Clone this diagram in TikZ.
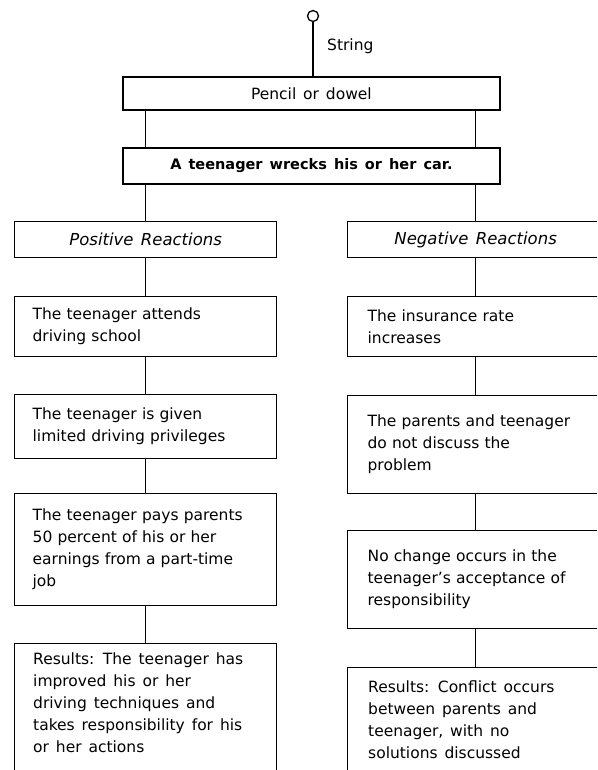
\documentclass[tikz,border=0pt]{standalone}
\usepackage{fontspec}
\setmainfont{DejaVu Sans}[WordSpace=1.4]
\begin{document}
\begin{tikzpicture}[x=1pt,y=-1pt,
  every node/.style={font=\fontsize{15.5}{22}\selectfont},
  box/.style={draw, line width=1.3pt, anchor=north west, inner xsep=18pt, inner ysep=0pt, align=left},
  lbox/.style={box, text width=226pt},
  rbox/.style={box, inner xsep=20pt, text width=216pt},
  head/.style={draw, line width=1.3pt, anchor=north west, minimum height=36pt,
    font=\fontsize{16.5}{22}\selectfont\itshape},
  bar/.style={draw, line width=1.8pt, minimum width=377pt, anchor=north west},
  inner/.style={anchor=north west, align=left, inner sep=0pt},
  link/.style={line width=1.3pt}
]
\useasboundingbox (0,0) rectangle (597,770);
\clip (0,0) rectangle (597,770);

% hanging ring, string and the two cross bars
\node[draw, circle, line width=1.3pt, minimum size=11pt, inner sep=0pt] (ring) at (313,16) {};
\node[anchor=west, inner sep=0pt] (strlabel) at (327,46) {String};
\node[bar, minimum height=33pt] (pencil) at (122,76) {Pencil or dowel};
\node[bar, minimum height=36pt, font=\fontsize{14.5}{20}\selectfont\bfseries] (event) at (122,147)
  {A teenager wrecks his or her car.};

% column headings
\node[head, minimum width=262pt] (pos) at (14,221) {Positive Reactions};
\node[head, minimum width=256pt] (neg) at (347,221) {Negative Reactions};

% positive column
\node[lbox, minimum height=60pt] (l1) at (14,296) {The teenager attends\\driving school};
\node[lbox, minimum height=64pt] (l2) at (14,394) {The teenager is given\\limited driving privileges};
\node[lbox, minimum height=112pt] (l3) at (14,493)
  {The teenager pays parents\\50 percent of his or her\\earnings from a part-time\\job};
\node[lbox, minimum height=150pt] (l4) at (14,643) {};
\node[inner] (l4t) at ([xshift=19pt, yshift=-10pt]l4.north west)
  {Results: The teenager has\\improved his or her\\driving techniques and\\takes responsibility for his\\or her actions};

% negative column
\node[rbox, minimum height=60pt] (r1) at (347,296) {The insurance rate\\increases};
\node[rbox, minimum height=98pt] (r2) at (347,395) {The parents and teenager\\do not discuss the\\problem};
\node[rbox, minimum height=98pt] (r3) at (347,530)
  {No change occurs in the\\teenager's acceptance of\\responsibility};
\node[rbox, minimum height=150pt] (r4) at (347,667) {};
\node[inner] (r4t) at ([xshift=21pt, yshift=-14pt]r4.north west)
  {Results: Conflict occurs\\between parents and\\teenager, with no\\solutions discussed};

% connectors
\draw[link] (ring.south) -- (ring.south |- pencil.north);
\draw[link] (pencil.south -| pos.north) -- (event.north -| pos.north);
\draw[link] (pencil.south -| neg.north) -- (event.north -| neg.north);
\draw[link] (event.south -| pos.north) -- (pos.north);
\draw[link] (event.south -| neg.north) -- (neg.north);
\draw[link] (pos.south) -- (l1.north);
\draw[link] (l1.south) -- (l2.north);
\draw[link] (l2.south) -- (l3.north);
\draw[link] (l3.south) -- (l4.north);
\draw[link] (neg.south) -- (r1.north);
\draw[link] (r1.south) -- (r2.north);
\draw[link] (r2.south) -- (r3.north);
\draw[link] (r3.south) -- (r4.north);
\end{tikzpicture}
\end{document}
